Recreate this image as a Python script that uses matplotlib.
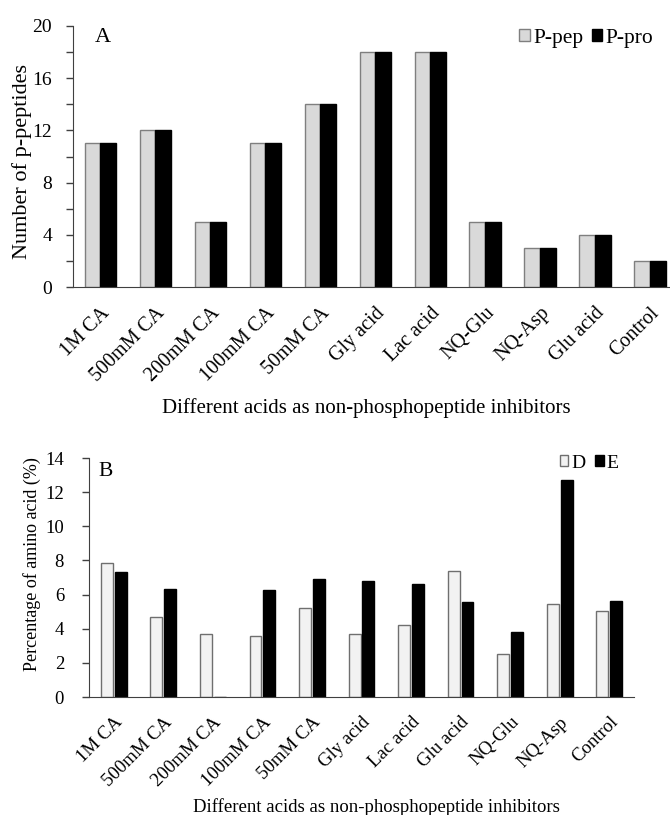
import numpy as np
import matplotlib
matplotlib.use('Agg')
import matplotlib.pyplot as plt

plt.rcParams['font.family'] = 'Liberation Serif'

# panel A
cats_a = ['1M CA', '500mM CA', '200mM CA', '100mM CA', '50mM CA', 'Gly acid',
          'Lac acid', 'NQ-Glu', 'NQ-Asp', 'Glu acid', 'Control']
p_pep = [11, 12, 5, 11, 14, 18, 18, 5, 3, 4, 2]
p_pro = [11, 12, 5, 11, 14, 18, 18, 5, 3, 4, 2]

# panel B
cats_b = ['1M CA', '500mM CA', '200mM CA', '100mM CA', '50mM CA', 'Gly acid',
          'Lac acid', 'Glu acid', 'NQ-Glu', 'NQ-Asp', 'Control']
d_vals = [7.87, 4.70, 3.67, 3.57, 5.19, 3.67, 4.22, 7.36, 2.50, 5.47, 5.06]
e_vals = [7.34, 6.31, 0.0, 6.25, 6.93, 6.78, 6.64, 5.54, 3.78, 12.71, 5.64]

xlabel = 'Different acids as non-phosphopeptide inhibitors'
spine_c = '#404040'

fig = plt.figure(figsize=(6.7, 8.15), dpi=100)

#############################################################################
# A
#############################################################################
ax1 = fig.add_axes([73 / 670, 1 - 287 / 815, 604.5 / 670, 261 / 815])
x = np.arange(len(cats_a))
w = 0.285
ax1.bar(x - w / 2, p_pep, w, color='#d9d9d9', edgecolor='#7f7f7f', linewidth=1, label='P-pep')
ax1.bar(x + w / 2, p_pro, w, color='black', edgecolor='black', linewidth=1, label='P-pro')
ax1.set_xlim(-0.5, 10.5)
ax1.set_ylim(0, 20)
ax1.set_yticks(np.arange(0, 21, 4))
ax1.set_yticks(np.arange(0, 21, 2), minor=True)
ax1.tick_params(axis='y', which='both', direction='out', length=5, width=1, color=spine_c,
                labelsize=14, pad=10)
ax1.tick_params(axis='x', length=0, labelsize=14.5, pad=12)
ax1.set_xticks(x)
ax1.set_xticklabels(cats_a, rotation=45, ha='right', rotation_mode='anchor')
ax1.set_ylabel('Number of p-peptides', fontsize=16, va='center')
ax1.yaxis.set_label_coords(-0.085, 0.481)
ax1.set_xlabel(xlabel, fontsize=15, va='top')
ax1.xaxis.set_label_coords(0.486, -0.425)
for s in ['top', 'right']:
    ax1.spines[s].set_visible(False)
for s in ['left', 'bottom']:
    ax1.spines[s].set_color(spine_c)
ax1.text(0.036, 0.992, 'A', transform=ax1.transAxes, fontsize=16, va='top')
ax1.legend(loc='center right', bbox_to_anchor=(0.978, 0.954), ncol=2, frameon=False, fontsize=15.5,
           borderpad=0, handlelength=0.5, handleheight=0.5, handletextpad=0.15, columnspacing=0.4)

#############################################################################
# B
#############################################################################
ax2 = fig.add_axes([89 / 670, 1 - 697 / 815, 545 / 670, 239 / 815])
x = np.arange(len(cats_b))
w = 0.24
gap = 0.04
ax2.bar(x - (w + gap) / 2, d_vals, w, color='#f2f2f2', edgecolor='#6f6f6f', linewidth=1, label='D')
ax2.bar(x + (w + gap) / 2, e_vals, w, color='black', edgecolor='black', linewidth=1, label='E')
ax2.set_xlim(-0.5, 10.5)
ax2.set_ylim(0, 14)
ax2.set_yticks(np.arange(0, 15, 2))
ax2.tick_params(axis='y', direction='out', length=5, width=1, color=spine_c, labelsize=13.5, pad=13)
ax2.tick_params(axis='x', length=0, labelsize=13.5, pad=12)
ax2.set_xticks(x)
ax2.set_xticklabels(cats_b, rotation=45, ha='right', rotation_mode='anchor')
ax2.set_ylabel('Percentage of amino acid (%)', fontsize=13, va='center')
ax2.yaxis.set_label_coords(-0.105, 0.556)
ax2.set_xlabel(xlabel, fontsize=13.5, va='top')
ax2.xaxis.set_label_coords(0.527, -0.423)
for s in ['top', 'right']:
    ax2.spines[s].set_visible(False)
for s in ['left', 'bottom']:
    ax2.spines[s].set_color(spine_c)
ax2.text(0.018, 0.983, 'B', transform=ax2.transAxes, fontsize=15.5, va='top')
ax2.legend(loc='center right', bbox_to_anchor=(0.99, 0.979), ncol=2, frameon=False, fontsize=14,
           borderpad=0, handlelength=0.45, handleheight=0.45, handletextpad=0.15, columnspacing=0.5)

plt.savefig('out.png', dpi=100)
